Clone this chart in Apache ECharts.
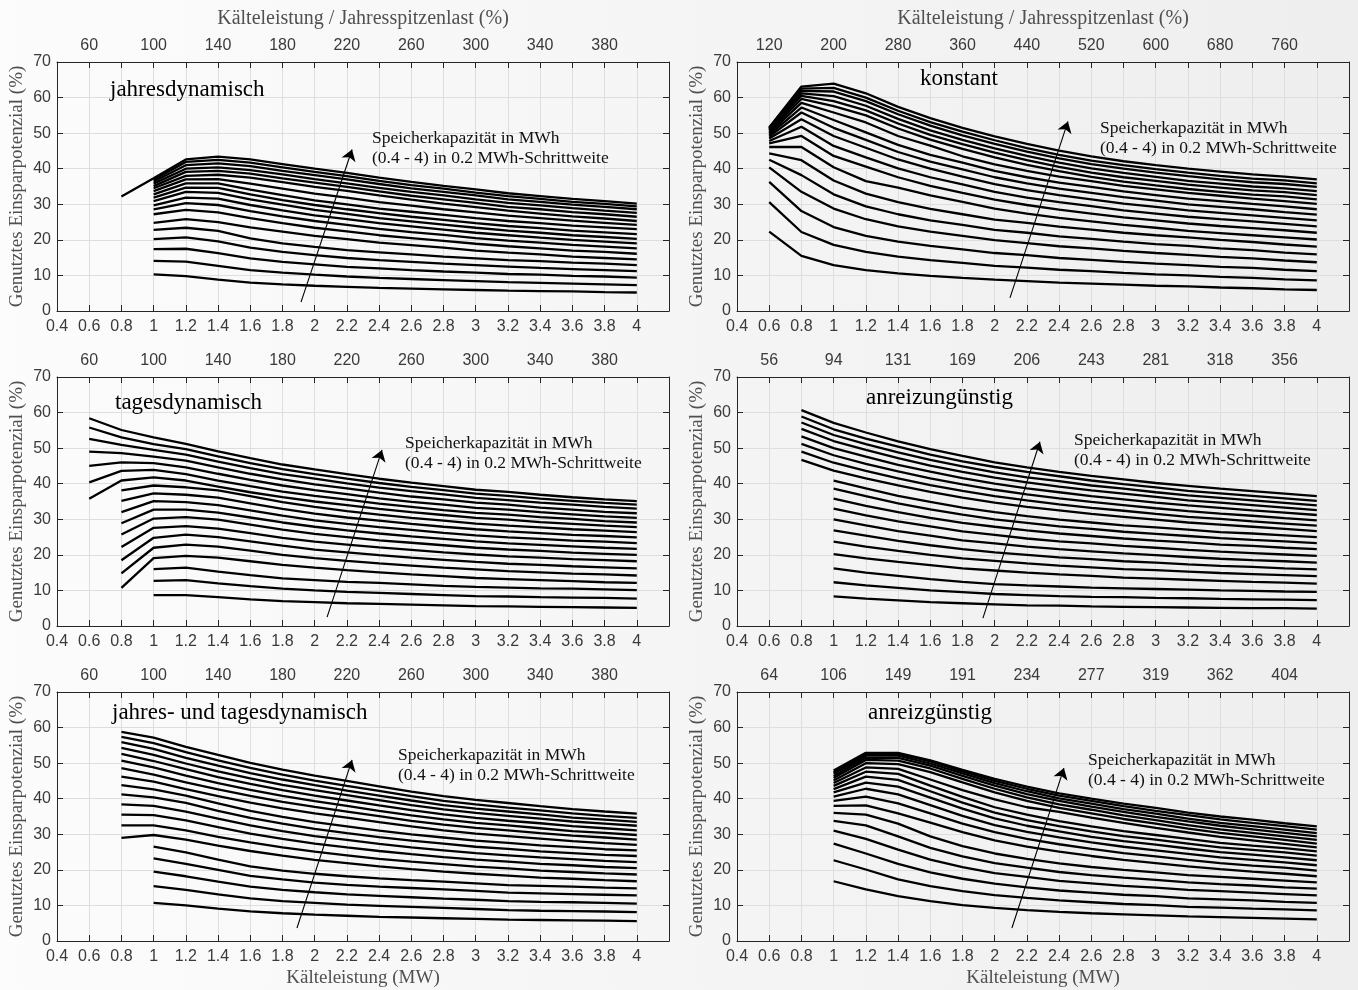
<!DOCTYPE html>
<html><head><meta charset="utf-8">
<script src="https://cdn.jsdelivr.net/npm/echarts@6/dist/echarts.min.js"></script>
<style>
html,body{margin:0;padding:0;width:1358px;height:990px;overflow:hidden;background:linear-gradient(to right,#fcfcfc,#eeeeee);}
#c{width:1358px;height:990px;}
</style>
</head><body><div id="c"></div>
<script>
// ---------- data ----------
const xs = [0.4,0.6,0.8,1.0,1.2,1.4,1.6,1.8,2.0,2.2,2.4,2.6,2.8,3.0,3.2,3.4,3.6,3.8,4.0];
const topLabelPos = [0.6,1.0,1.4,1.8,2.2,2.6,3.0,3.4,3.8];
const topLabelsPct = ['60','100','140','180','220','260','300','340','380'];
const topLabelsKonstant = ['120','200','280','360','440','520','600','680','760'];
const topLabelsUngunst = ['56','94','131','169','206','243','281','318','356'];
const topLabelsGunst = ['64','106','149','191','234','277','319','362','404'];

// jahresdynamisch
const jahresStart = [1,1,1,1,1,1,1,1,1,1,1,1,1,1,1,1,1,1,0.8];
const jahresLines = [
[10.3,9.8,8.8,8.0,7.5,7.1,6.8,6.5,6.3,6.1,5.9,5.7,5.6,5.5,5.3,5.2],
[14.1,13.9,12.7,11.5,10.8,10.2,9.7,9.3,9.0,8.7,8.4,8.1,7.9,7.7,7.5,7.3],
[17.4,17.5,16.3,14.8,13.8,13.1,12.4,12.0,11.5,11.1,10.8,10.4,10.2,9.9,9.7,9.4],
[20.2,20.7,19.6,17.8,16.6,15.7,14.9,14.3,13.8,13.3,12.9,12.5,12.1,11.8,11.5,11.2],
[22.8,23.4,22.5,20.4,19.0,18.0,17.1,16.5,15.9,15.3,14.8,14.3,14.0,13.6,13.3,12.9],
[24.8,25.8,25.0,23.5,22.3,21.1,20.2,19.2,18.5,17.8,17.0,16.4,15.9,15.3,14.9,14.5],
[27.2,28.4,27.7,26.1,24.7,23.4,22.4,21.3,20.5,19.7,18.9,18.2,17.6,17.0,16.6,16.1],
[28.6,30.3,29.8,28.1,26.6,25.3,24.2,23.1,22.2,21.4,20.5,19.8,19.2,18.6,18.1,17.6],
[29.7,31.9,31.6,29.8,28.3,26.9,25.8,24.7,23.8,22.9,22.0,21.3,20.6,20.0,19.5,19.0],
[30.9,33.5,33.2,31.4,29.9,28.4,27.3,26.1,25.2,24.3,23.4,22.6,22.0,21.3,20.8,20.3],
[31.9,34.7,34.6,32.8,31.2,29.8,28.6,27.5,26.5,25.6,24.7,23.9,23.3,22.6,22.1,21.6],
[32.8,35.9,35.9,34.1,32.6,31.1,30.0,28.8,27.9,27.0,26.1,25.3,24.7,24.0,23.5,23.0],
[33.7,37.0,37.1,35.8,34.4,33.0,31.9,30.6,29.6,28.6,27.7,26.8,26.1,25.4,24.8,24.2],
[34.5,38.0,38.3,37.5,36.2,34.9,33.8,32.5,31.3,30.2,29.2,28.2,27.4,26.6,26.0,25.3],
[35.1,39.1,39.4,38.6,37.3,36.1,34.9,33.6,32.4,31.4,30.4,29.3,28.6,27.8,27.2,26.5],
[35.8,40.0,40.4,39.6,38.4,37.1,35.9,34.6,33.5,32.5,31.4,30.4,29.7,28.9,28.2,27.6],
[36.4,41.0,41.5,40.7,39.4,38.2,37.0,35.7,34.5,33.5,32.5,31.4,30.7,29.9,29.3,28.6],
[36.9,41.9,42.5,41.7,40.4,39.1,37.9,36.6,35.4,34.4,33.3,32.3,31.5,30.7,30.1,29.4],
[32.2,37.3,42.6,43.4,42.6,41.3,40.0,38.8,37.5,36.3,35.2,34.2,33.1,32.3,31.5,30.9,30.2]
];

// konstant
const konstantStart = [0.6,0.6,0.6,0.6,0.6,0.6,0.6,0.6,0.6,0.6,0.6,0.6,0.6,0.6,0.6,0.6,0.6,0.6,0.6];
const konstantLines = [
[22.3,15.5,12.9,11.5,10.6,9.9,9.3,8.8,8.4,8.0,7.7,7.4,7.1,6.9,6.6,6.4,6.1,5.9],
[30.6,22.2,18.6,16.6,15.3,14.3,13.5,12.7,12.2,11.6,11.2,10.7,10.3,10.0,9.6,9.3,8.9,8.6],
[36.3,28.1,23.6,21.1,19.5,18.3,17.3,16.3,15.7,14.9,14.4,13.8,13.3,12.9,12.4,12.1,11.6,11.2],
[40.4,33.5,28.8,25.8,23.8,22.3,21.1,19.9,19.1,18.2,17.6,16.9,16.3,15.8,15.2,14.8,14.2,13.7],
[42.5,38.2,32.8,29.4,27.2,25.5,24.2,22.8,22.0,21.0,20.3,19.5,18.8,18.3,17.6,17.1,16.4,15.9],
[44.3,42.4,36.7,33.0,30.6,28.7,27.2,25.7,24.8,23.7,22.9,22.0,21.3,20.7,20.0,19.4,18.7,18.1],
[46.1,46.1,40.4,36.5,34.7,32.5,30.7,28.8,27.4,26.2,25.2,24.2,23.4,22.5,21.9,21.3,20.7,20.1],
[47.1,49.2,43.6,40.6,37.6,35.2,33.2,31.3,29.8,28.5,27.4,26.3,25.5,24.6,23.9,23.3,22.7,22.0],
[47.8,51.8,46.4,43.2,40.1,37.6,35.6,33.5,31.9,30.6,29.5,28.3,27.4,26.5,25.8,25.2,24.5,23.8],
[48.5,53.9,49.2,45.9,42.6,40.0,37.8,35.7,34.0,32.6,31.4,30.2,29.3,28.3,27.6,26.9,26.2,25.5],
[49.0,55.8,51.5,48.1,44.7,42.0,39.8,37.6,35.9,34.4,33.2,32.0,31.0,30.0,29.3,28.6,27.8,27.1],
[49.5,57.2,53.7,50.2,46.7,43.9,41.7,39.4,37.6,36.1,34.9,33.6,32.6,31.6,30.9,30.1,29.4,28.6],
[50.0,58.5,55.8,53.0,49.2,46.5,43.5,41.2,39.4,37.8,36.5,35.2,34.2,33.2,32.4,31.6,30.9,30.1],
[50.4,59.6,57.6,55.0,51.3,48.2,45.6,43.2,41.1,39.3,37.7,36.4,35.3,34.3,33.5,32.7,32.2,31.4],
[50.8,60.5,59.0,56.4,52.7,49.5,46.9,44.5,42.4,40.5,38.9,37.6,36.6,35.5,34.7,33.9,33.4,32.6],
[51.1,61.2,60.4,57.7,54.0,50.8,48.1,45.7,43.6,41.7,40.1,38.8,37.7,36.6,35.8,35.0,34.5,33.7],
[51.3,61.9,61.7,59.0,55.3,52.1,49.4,47.0,44.8,42.9,41.3,40.0,38.9,37.9,37.0,36.2,35.7,34.9],
[51.5,62.5,62.7,60.0,56.3,53.1,50.4,48.0,45.8,43.9,42.3,41.0,39.9,38.9,38.0,37.2,36.7,35.9],
[51.6,63.1,63.9,61.2,57.4,54.2,51.5,49.1,47.0,45.1,43.5,42.1,41.0,40.0,39.2,38.4,37.8,37.0]
];

// tagesdynamisch
const tagesStart = [1,1,1,0.8,0.8,0.8,0.8,0.8,0.8,0.8,0.8,0.8,0.6,0.6,0.6,0.6,0.6,0.6,0.6];
const tagesLines = [
[8.7,8.7,8.1,7.5,7.0,6.7,6.4,6.2,6.0,5.8,5.6,5.5,5.4,5.3,5.2,5.1],
[12.7,12.9,12.0,11.2,10.5,10.0,9.6,9.3,9.0,8.7,8.4,8.3,8.1,8.0,7.9,7.7],
[16.0,16.4,15.3,14.3,13.4,12.9,12.4,12.1,11.7,11.3,11.0,10.8,10.6,10.5,10.3,10.1],
[10.7,19.1,19.7,19.2,18.2,17.2,16.4,15.7,15.1,14.5,14.0,13.5,13.2,12.9,12.6,12.3,12.1],
[14.8,22.0,22.9,22.3,21.2,20.0,19.1,18.3,17.6,17.0,16.4,15.9,15.4,15.1,14.7,14.5,14.2],
[18.5,24.8,25.7,25.0,23.8,22.6,21.5,20.7,19.9,19.2,18.6,18.0,17.5,17.2,16.8,16.5,16.2],
[22.2,27.6,28.1,27.4,26.1,24.8,23.7,22.9,22.1,21.4,20.7,20.1,19.6,19.2,18.8,18.5,18.2],
[25.7,30.2,30.6,29.9,28.5,27.1,25.9,25.0,24.1,23.4,22.7,22.0,21.5,21.1,20.6,20.3,20.0],
[28.9,32.7,32.7,31.9,30.5,29.1,27.9,26.9,26.0,25.2,24.5,23.8,23.2,22.8,22.4,22.0,21.7],
[32.0,35.1,34.8,34.0,32.5,31.0,29.7,28.7,27.8,27.0,26.2,25.5,24.9,24.5,24.0,23.7,23.3],
[35.2,37.3,36.9,36.1,34.5,32.9,31.6,30.5,29.6,28.7,27.9,27.2,26.6,26.1,25.6,25.3,24.9],
[38.1,39.5,39.0,38.1,36.5,34.8,33.5,32.3,31.3,30.4,29.6,28.8,28.2,27.7,27.2,26.8,26.4],
[35.8,40.9,41.8,40.9,39.2,37.6,36.2,35.0,34.0,32.9,32.0,31.2,30.4,29.9,29.2,28.7,28.2,27.8],
[40.4,43.6,43.9,42.7,40.9,39.3,37.8,36.6,35.5,34.4,33.5,32.6,31.8,31.3,30.6,30.1,29.5,29.1],
[45.0,46.0,45.8,44.6,42.8,41.1,39.5,38.2,37.1,35.9,34.9,34.1,33.2,32.7,32.0,31.4,30.8,30.4],
[49.0,48.6,47.6,46.5,44.6,42.8,41.2,39.8,38.7,37.5,36.4,35.6,34.7,34.1,33.3,32.7,32.1,31.7],
[52.6,50.9,49.5,48.2,46.2,44.4,42.7,41.4,40.1,38.9,37.9,37.0,36.0,35.4,34.7,34.1,33.5,33.0],
[55.8,53.0,51.1,49.7,47.7,45.8,44.1,42.7,41.4,40.2,39.1,38.2,37.2,36.6,35.8,35.2,34.6,34.1],
[58.4,55.1,53.0,51.2,49.1,47.2,45.4,44.0,42.7,41.4,40.3,39.3,38.3,37.7,36.9,36.2,35.6,35.1]
];

// anreizungünstig
const ungunstStart = [1,1,1,1,1,1,1,1,1,1,1,0.8,0.8,0.8,0.8,0.8,0.8,0.8,0.8];
const ungunstLines = [
[8.3,7.7,7.2,6.7,6.4,6.1,5.8,5.7,5.5,5.4,5.3,5.2,5.1,5.0,5.0,4.9],
[12.3,11.4,10.7,10.0,9.5,9.0,8.7,8.4,8.2,8.1,7.9,7.8,7.6,7.5,7.4,7.3],
[16.2,15.0,14.1,13.2,12.4,11.8,11.4,11.1,10.8,10.6,10.4,10.2,10.0,9.9,9.7,9.6],
[20.2,19.0,18.0,17.1,16.2,15.6,15.0,14.5,14.1,13.6,13.3,13.0,12.7,12.4,12.2,11.9],
[23.7,22.3,21.1,20.0,19.0,18.3,17.6,17.0,16.5,16.0,15.7,15.3,14.9,14.6,14.3,14.0],
[26.9,25.4,23.9,22.7,21.6,20.7,20.0,19.3,18.8,18.2,17.8,17.3,16.9,16.6,16.2,15.9],
[30.0,28.3,26.7,25.4,24.1,23.2,22.3,21.6,21.0,20.4,19.9,19.4,18.9,18.5,18.2,17.8],
[33.0,31.1,29.4,28.0,26.6,25.6,24.6,23.8,23.2,22.5,22.0,21.4,20.9,20.5,20.1,19.7],
[35.8,33.8,32.0,30.4,29.0,27.9,26.9,26.0,25.3,24.6,24.0,23.5,22.9,22.5,22.0,21.6],
[38.6,36.5,34.5,32.8,31.3,30.0,29.0,28.0,27.3,26.5,25.9,25.3,24.7,24.2,23.8,23.3],
[40.9,38.7,36.6,34.9,33.3,32.0,30.9,29.9,29.1,28.3,27.7,27.1,26.4,26.0,25.5,25.0],
[46.7,43.7,41.5,39.5,37.7,36.1,34.7,33.5,32.5,31.5,30.7,29.9,29.1,28.5,27.9,27.3,26.7],
[49.0,45.9,43.6,41.5,39.6,38.0,36.5,35.3,34.2,33.2,32.4,31.5,30.7,30.1,29.4,28.8,28.2],
[51.2,48.0,45.6,43.5,41.5,39.8,38.3,37.0,35.9,34.9,34.0,33.1,32.3,31.6,31.0,30.3,29.7],
[53.3,50.0,47.6,45.3,43.4,41.6,40.0,38.7,37.6,36.5,35.6,34.7,33.9,33.2,32.5,31.9,31.2],
[55.4,52.0,49.5,47.2,45.1,43.3,41.7,40.4,39.2,38.1,37.2,36.3,35.3,34.7,34.0,33.3,32.6],
[57.2,53.7,51.1,48.8,46.7,44.9,43.2,41.8,40.7,39.5,38.6,37.6,36.7,36.0,35.3,34.6,33.9],
[58.9,55.3,52.7,50.4,48.2,46.3,44.7,43.3,42.1,40.9,39.9,39.0,38.0,37.3,36.6,35.9,35.2],
[60.7,57.1,54.4,51.9,49.7,47.8,46.0,44.6,43.3,42.2,41.2,40.2,39.4,38.6,37.9,37.2,36.5]
];

// jahres- und tagesdynamisch
const jtStart = [1,1,1,1,1,0.8,0.8,0.8,0.8,0.8,0.8,0.8,0.8,0.8,0.8,0.8,0.8,0.8,0.8];
const jtLines = [
[10.7,10.0,9.1,8.3,7.8,7.4,7.1,6.8,6.6,6.4,6.2,6.0,5.9,5.8,5.7,5.6],
[15.4,14.4,13.1,12.0,11.2,10.7,10.2,9.9,9.6,9.3,9.0,8.7,8.5,8.4,8.3,8.1],
[19.5,18.2,16.7,15.3,14.4,13.7,13.1,12.7,12.3,11.9,11.6,11.2,11.0,10.9,10.7,10.5],
[23.2,21.7,20.0,18.3,17.3,16.4,15.8,15.3,14.9,14.5,14.1,13.6,13.4,13.2,13.0,12.8],
[26.5,24.9,22.9,21.0,19.8,18.9,18.2,17.6,17.1,16.7,16.2,15.7,15.5,15.3,15.0,14.8],
[29.0,29.8,28.5,26.8,25.3,24.0,22.8,21.9,21.0,20.2,19.5,18.9,18.4,17.8,17.5,17.1,16.8],
[32.5,32.5,31.1,29.3,27.7,26.3,25.1,24.1,23.1,22.3,21.6,20.9,20.4,19.8,19.4,19.0,18.7],
[35.5,35.4,33.9,32.0,30.2,28.7,27.4,26.3,25.3,24.4,23.6,22.9,22.3,21.7,21.3,20.8,20.5],
[38.4,38.0,36.4,34.4,32.5,30.9,29.5,28.4,27.3,26.3,25.5,24.7,24.1,23.5,23.0,22.5,22.2],
[41.2,40.4,38.8,36.6,34.6,33.0,31.5,30.3,29.2,28.2,27.4,26.5,25.9,25.2,24.7,24.2,23.9],
[43.8,42.6,40.9,38.7,36.6,34.9,33.4,32.2,31.0,30.0,29.1,28.2,27.6,26.9,26.4,25.8,25.5],
[46.2,44.8,42.7,40.7,38.9,37.3,35.9,34.7,33.4,32.2,31.1,30.2,29.5,28.8,28.1,27.5,27.0],
[48.6,46.8,44.6,42.6,40.8,39.1,37.7,36.4,35.1,33.8,32.7,31.8,31.1,30.3,29.6,29.1,28.5],
[50.7,48.8,46.5,44.4,42.5,40.8,39.3,38.0,36.6,35.3,34.2,33.2,32.5,31.7,30.9,30.4,29.8],
[52.6,50.6,48.3,46.1,44.2,42.4,40.9,39.5,38.1,36.8,35.6,34.6,33.8,33.1,32.3,31.7,31.1],
[54.3,52.3,49.9,47.7,45.7,43.9,42.4,41.0,39.6,38.2,37.0,36.0,35.2,34.4,33.6,33.0,32.4],
[55.9,54.0,51.5,49.3,47.2,45.4,43.8,42.3,40.9,39.5,38.2,37.2,36.4,35.6,34.7,34.1,33.5],
[57.4,55.6,53.1,50.8,48.7,46.8,45.1,43.6,42.2,40.7,39.4,38.4,37.5,36.7,35.9,35.2,34.6],
[58.8,57.2,54.6,52.3,50.1,48.2,46.5,45.0,43.5,42.0,40.7,39.7,38.8,37.9,37.1,36.4,35.8]
];

// anreizgünstig
const gunstStart = [1,1,1,1,1,1,1,1,1,1,1,1,1,1,1,1,1,1,1];
const gunstLines = [
[16.8,14.5,12.6,11.2,10.1,9.3,8.7,8.2,7.8,7.5,7.2,6.9,6.7,6.5,6.3,6.1],
[22.7,20.1,17.3,15.4,14.0,12.9,12.1,11.4,10.9,10.4,10.1,9.6,9.4,9.1,8.9,8.6],
[27.4,24.6,21.7,19.3,17.5,16.1,15.1,14.2,13.6,13.0,12.6,12.0,11.7,11.4,11.0,10.7],
[31.0,28.7,25.7,22.9,20.8,19.1,18.0,16.9,16.2,15.5,15.0,14.4,14.0,13.6,13.2,12.8],
[33.8,32.5,29.4,26.2,23.8,21.9,20.6,19.4,18.5,17.8,17.2,16.5,16.0,15.6,15.1,14.7],
[36.0,35.5,33.0,29.4,26.7,24.6,23.1,21.8,20.8,20.0,19.3,18.5,18.0,17.5,17.0,16.5],
[38.0,38.1,35.9,33.3,30.6,28.3,26.5,25.1,23.9,22.8,21.9,21.0,20.2,19.5,18.9,18.2],
[39.4,40.6,38.7,35.9,33.0,30.6,28.7,27.2,25.9,24.7,23.8,22.8,21.9,21.2,20.6,19.8],
[40.6,42.8,41.2,38.2,35.2,32.6,30.7,29.1,27.7,26.5,25.5,24.5,23.5,22.8,22.1,21.3],
[41.8,44.5,43.4,40.3,37.2,34.5,32.4,30.8,29.3,28.1,27.1,26.0,25.0,24.3,23.5,22.7],
[42.7,46.2,45.3,42.1,38.9,36.1,34.0,32.3,30.8,29.5,28.5,27.4,26.3,25.6,24.9,24.0],
[43.6,47.6,47.0,43.7,40.5,37.6,35.5,33.7,32.2,30.9,29.8,28.7,27.6,26.8,26.1,25.2],
[44.4,48.8,48.4,45.4,42.4,39.8,37.6,36.3,34.7,33.2,31.8,30.5,29.3,28.3,27.3,26.3],
[45.1,50.0,49.7,47.5,44.6,41.8,39.4,37.4,35.9,34.3,33.0,31.6,30.4,29.4,28.4,27.4],
[45.8,50.9,50.7,48.5,45.6,42.8,40.4,38.4,36.9,35.3,34.0,32.6,31.4,30.4,29.4,28.4],
[46.4,51.5,51.5,49.3,46.4,43.7,41.3,39.4,37.8,36.3,34.9,33.6,32.4,31.4,30.4,29.4],
[47.0,52.1,52.1,49.9,47.1,44.4,42.1,40.1,38.6,37.1,35.8,34.4,33.2,32.3,31.3,30.3],
[47.4,52.6,52.6,50.5,47.7,45.0,42.8,40.9,39.4,37.9,36.6,35.4,34.2,33.2,32.3,31.3],
[47.9,52.9,52.9,50.8,48.1,45.6,43.4,41.5,40.0,38.6,37.4,36.1,35.0,34.1,33.1,32.2]
];

const panelTitles = ['jahresdynamisch','konstant','tagesdynamisch','anreizungünstig','jahres- und tagesdynamisch','anreizgünstig'];

// ---------- layout ----------
const panels = [
  {start: jahresStart, lines: jahresLines, top: topLabelsPct, left: 57, topPx: 62, title: [110, 90], anno: [372, 138], arrow: [[1.915, 2.5], [2.232, 45.4]]},
  {start: konstantStart, lines: konstantLines, top: topLabelsKonstant, left: 737, topPx: 62, title: [920, 79], anno: [1100, 128], arrow: [[2.095, 3.7], [2.455, 53.3]]},
  {start: tagesStart, lines: tagesLines, top: topLabelsPct, left: 57, topPx: 377, title: [115, 403], anno: [405, 443], arrow: [[2.077, 2.5], [2.418, 49.5]]},
  {start: ungunstStart, lines: ungunstLines, top: topLabelsUngunst, left: 737, topPx: 377, title: [866, 398], anno: [1074, 440], arrow: [[1.927, 2.2], [2.281, 51.8]]},
  {start: jtStart, lines: jtLines, top: topLabelsPct, left: 57, topPx: 692, title: [112, 713], anno: [398, 755], arrow: [[1.89, 3.65], [2.232, 50.9]]},
  {start: gunstStart, lines: gunstLines, top: topLabelsGunst, left: 737, topPx: 692, title: [868, 713], anno: [1088, 760], arrow: [[2.107, 3.65], [2.43, 48.6]]}
];

const AX = '#262626', LBL = '#3a3a3a', NAME = '#505050', GRID = '#dedede';
const SANS = 'Liberation Sans', SERIF = 'Liberation Serif';

const grid = [], xAxis = [], yAxis = [], series = [], graphic = [];
panels.forEach((p, i) => {
  grid.push({left: p.left, top: p.topPx, width: 612, height: 249});
  const topRow = i < 2, bottomRow = i >= 4;
  xAxis.push({
    gridIndex: i, type: 'value', min: 0.4, max: 4.2, interval: 0.2, position: 'bottom',
    axisLine: {show: true, onZero: false, lineStyle: {color: AX, width: 1}},
    axisTick: {show: true, inside: true, length: 6, lineStyle: {color: AX}},
    axisLabel: {color: LBL, fontFamily: SANS, fontSize: 16, margin: 8,
      formatter: v => (v > 4.05 ? '' : String(Math.round(v * 10) / 10))},
    splitLine: {show: true, lineStyle: {color: GRID, width: 1}},
    name: bottomRow ? 'Kälteleistung (MW)' : '', nameLocation: 'middle', nameGap: 28,
    nameTextStyle: {color: NAME, fontFamily: SERIF, fontSize: 19}
  });
  xAxis.push({
    gridIndex: i, type: 'value', min: 0.4, max: 4.2, interval: 0.2, position: 'top',
    axisLine: {show: true, onZero: false, lineStyle: {color: AX, width: 1}},
    axisTick: {show: true, inside: true, length: 6, lineStyle: {color: AX}},
    axisLabel: {color: LBL, fontFamily: SANS, fontSize: 16, margin: 8,
      formatter: v => {
        for (let j = 0; j < topLabelPos.length; j++) if (Math.abs(v - topLabelPos[j]) < 0.01) return p.top[j];
        return '';
      }},
    splitLine: {show: false},
    name: topRow ? 'Kälteleistung / Jahresspitzenlast (%)' : '', nameLocation: 'middle', nameGap: 33,
    nameTextStyle: {color: NAME, fontFamily: SERIF, fontSize: 20}
  });
  yAxis.push({
    gridIndex: i, type: 'value', min: 0, max: 70, interval: 10, position: 'left',
    axisLine: {show: true, onZero: false, lineStyle: {color: AX, width: 1}},
    axisTick: {show: true, inside: true, length: 6, lineStyle: {color: AX}},
    axisLabel: {color: LBL, fontFamily: SANS, fontSize: 16, margin: 6},
    splitLine: {show: true, lineStyle: {color: GRID, width: 1}},
    name: 'Genutztes Einsparpotenzial (%)', nameLocation: 'middle', nameGap: 30, nameRotate: 90,
    nameTextStyle: {color: NAME, fontFamily: SERIF, fontSize: 19}
  });
  yAxis.push({
    gridIndex: i, type: 'value', min: 0, max: 70, interval: 10, position: 'right',
    axisLine: {show: true, onZero: false, lineStyle: {color: AX, width: 1}},
    axisTick: {show: true, inside: true, length: 6, lineStyle: {color: AX}},
    axisLabel: {show: false}, splitLine: {show: false}
  });
  p.lines.forEach((vals, k) => {
    const s = xs.findIndex(x => Math.abs(x - p.start[k]) < 1e-6);
    const data = [];
    vals.forEach((v, j) => { if (xs[s + j] !== undefined) data.push([xs[s + j], v]); });
    series.push({
      type: 'line', xAxisIndex: 2 * i, yAxisIndex: 2 * i, data: data,
      symbol: 'none', showSymbol: false, silent: true, z: 3,
      lineStyle: {color: '#000', width: 2.3}
    });
  });
  series.push({
    type: 'lines', coordinateSystem: 'cartesian2d', xAxisIndex: 2 * i, yAxisIndex: 2 * i,
    symbol: ['none', 'arrow'], symbolSize: 11, silent: true, z: 4,
    lineStyle: {color: '#000', width: 1.1, opacity: 1, curveness: 0},
    data: [{coords: p.arrow}]
  });
  graphic.push({type: 'text', x: p.title[0], y: p.title[1], z: 10,
    style: {text: panelTitles[i], font: '23px "' + SERIF + '"', fill: '#000', textVerticalAlign: 'middle', verticalAlign: 'middle'}});
  graphic.push({type: 'text', x: p.anno[0], y: p.anno[1], z: 10,
    style: {text: 'Speicherkapazität in MWh', font: '17.5px "' + SERIF + '"', fill: '#111', textVerticalAlign: 'middle', verticalAlign: 'middle'}});
  graphic.push({type: 'text', x: p.anno[0], y: p.anno[1] + 20, z: 10,
    style: {text: '(0.4 - 4) in 0.2 MWh-Schrittweite', font: '17.5px "' + SERIF + '"', fill: '#111', textVerticalAlign: 'middle', verticalAlign: 'middle'}});
});

const chart = echarts.init(document.getElementById('c'), null, {renderer: 'canvas'});
chart.setOption({
  backgroundColor: 'transparent', animation: false,
  grid, xAxis, yAxis, series, graphic
});
</script></body></html>
